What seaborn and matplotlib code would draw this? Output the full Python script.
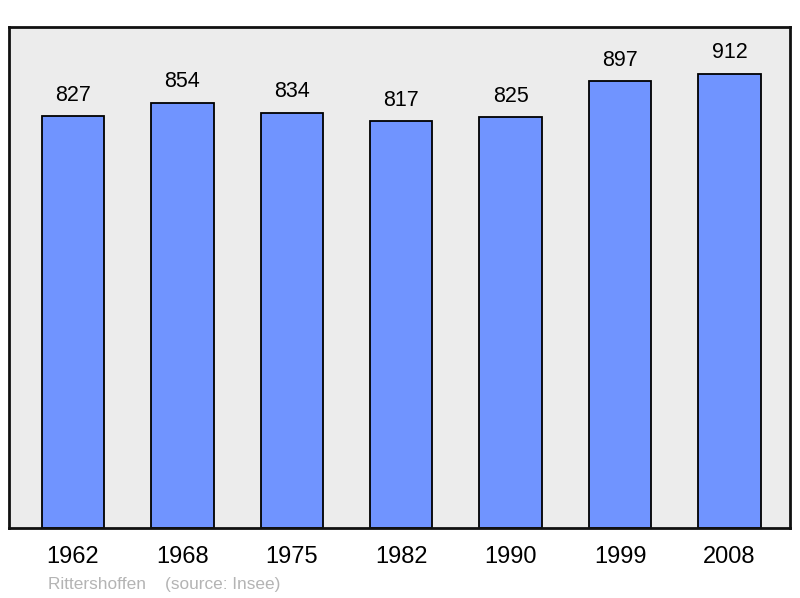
import matplotlib
matplotlib.use("Agg")
import matplotlib.pyplot as plt
import seaborn as sns
import pandas as pd

annees = ["1962", "1968", "1975", "1982", "1990", "1999", "2008"]
population = [827, 854, 834, 817, 825, 897, 912]

df = pd.DataFrame({"annee": annees, "pop": population})

sns.set_style("white")
plt.rcParams['font.family'] = ['Liberation Sans', 'DejaVu Sans']
plt.rcParams['text.color'] = 'black'
plt.rcParams['xtick.color'] = 'black'

fig = plt.figure(figsize=(8, 5.98), dpi=100)
ax = fig.add_axes([9 / 800, 1 - 528 / 598, 781 / 800, 501 / 598])
ax.set_facecolor("#ececec")

sns.barplot(data=df, x="annee", y="pop", color="#7094ff", saturation=1,
            width=0.57, edgecolor="black", linewidth=1.3, ax=ax)

for i, v in enumerate(population):
    ax.text(i, v + 21, str(v), ha="center", va="bottom", fontsize=15.5, color="black")

ax.set_ylim(0, 1006)
ax.set_xlim(-0.585, 6.553)
ax.set_yticks([])
ax.set_xlabel("")
ax.set_ylabel("")
ax.tick_params(axis="x", length=0, labelsize=17, pad=13)
for s in ax.spines.values():
    s.set_linewidth(2)
    s.set_color("#111111")

fig.text(48 / 800, 1 - 584 / 598, "Rittershoffen    (source: Insee)",
         fontsize=12.4, color="#b4b4b4", va="center")

fig.savefig("out.png", dpi=100)
